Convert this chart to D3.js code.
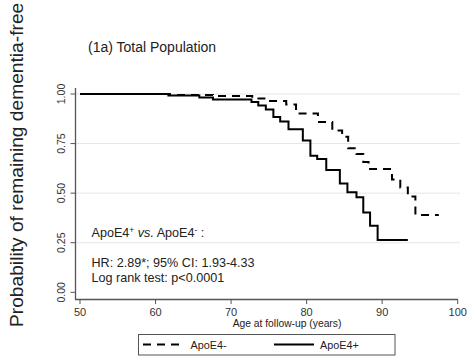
<!DOCTYPE html>
<html><head><meta charset="utf-8">
<script src="https://cdn.jsdelivr.net/npm/d3@7"></script>
<style>body{margin:0;background:#fff}svg{display:block;font-family:"Liberation Sans",Arial,sans-serif}</style>
</head><body><svg id="c" width="474" height="362"></svg>
<script>
const xTicks = [50, 60, 70, 80, 90, 100];
const yTicks = [0, 0.25, 0.5, 0.75, 1];
const gridTicks = [0.25, 0.5, 0.75, 1];
const seriesNames = ["ApoE4-", "ApoE4+"];
const negAges = [50, 61.9, 67.6, 72.8, 74.9, 77.3, 78.6, 81.5, 83.4, 84.7, 85.5, 86.6, 87.5, 88.2, 91.3, 92.4, 93.4, 94.4, 97.5];
const negSurv = [1, 0.995, 0.990, 0.977, 0.965, 0.947, 0.902, 0.859, 0.816, 0.785, 0.726, 0.698, 0.657, 0.622, 0.569, 0.529, 0.483, 0.390, 0.390];
const posAges = [50, 61.7, 65.8, 67.6, 72.7, 73.6, 74.6, 75.6, 76.5, 77.6, 79.5, 80.5, 81.4, 82.6, 84.4, 85.4, 86.6, 87.5, 88.4, 89.4, 93.4];
const posSurv = [1, 0.993, 0.982, 0.972, 0.960, 0.942, 0.922, 0.884, 0.861, 0.822, 0.765, 0.688, 0.672, 0.617, 0.549, 0.504, 0.479, 0.402, 0.335, 0.264, 0.264];

const svg = d3.select("#c");
const x = d3.scaleLinear().domain([50, 100]).range([80, 457.7]);
const y = d3.scaleLinear().domain([0, 1]).range([292.3, 94]);

// grid
svg.append("g").selectAll("line").data(gridTicks).join("line")
  .attr("x1", 75.5).attr("x2", 460).attr("y1", d => y(d)).attr("y2", d => y(d))
  .attr("stroke", "#e6e6e6").attr("stroke-width", 1);

// axes
const axCol = "#555";
svg.append("line").attr("x1", 75.5).attr("x2", 75.5).attr("y1", 88).attr("y2", 299.5).attr("stroke", axCol).attr("stroke-width", 1.3);
svg.append("line").attr("x1", 75).attr("x2", 458).attr("y1", 299.5).attr("y2", 299.5).attr("stroke", axCol).attr("stroke-width", 1.3);
svg.append("g").selectAll("line").data(yTicks).join("line")
  .attr("x1", 70.5).attr("x2", 75.5).attr("y1", d => y(d)).attr("y2", d => y(d)).attr("stroke", axCol);
svg.append("g").selectAll("text").data(yTicks).join("text")
  .attr("transform", d => `translate(65,${y(d)}) rotate(-90)`)
  .attr("text-anchor", "middle").attr("font-size", 10.5).attr("fill", "#333")
  .text(d => d3.format(".2f")(d));
svg.append("g").selectAll("line").data(xTicks).join("line")
  .attr("x1", d => x(d)).attr("x2", d => x(d)).attr("y1", 299.5).attr("y2", 304).attr("stroke", axCol);
svg.append("g").selectAll("text").data(xTicks).join("text")
  .attr("x", d => x(d)).attr("y", 315.5).attr("text-anchor", "middle")
  .attr("font-size", 11).attr("fill", "#333").text(d => d);
svg.append("text").attr("x", 287).attr("y", 326.5).attr("text-anchor", "middle")
  .attr("font-size", 10.3).attr("fill", "#222").text("Age at follow-up (years)");

// y title
svg.append("text").attr("transform", "translate(23,327) rotate(-90)")
  .attr("font-size", 19.2).attr("fill", "#222").text("Probability of remaining dementia-free");

// title
svg.append("text").attr("x", 88).attr("y", 52).attr("font-size", 14).attr("fill", "#222").text("(1a) Total Population");

// curves
const line = d3.line().curve(d3.curveStepAfter).x(d => x(d[0])).y(d => y(d[1]));
svg.append("path").datum(d3.zip(negAges, negSurv)).attr("d", line)
  .attr("fill", "none").attr("stroke", "#000").attr("stroke-width", 2).attr("stroke-dasharray", "8,6");
svg.append("path").datum(d3.zip(posAges, posSurv)).attr("d", line)
  .attr("fill", "none").attr("stroke", "#000").attr("stroke-width", 2);

// annotations
const ann = svg.append("g").attr("font-size", 12.6).attr("fill", "#222");
const t1 = ann.append("text").attr("x", 91.5).attr("y", 236.5);
t1.append("tspan").text("ApoE4");
t1.append("tspan").attr("font-size", 8.5).attr("dy", -4).text("+");
t1.append("tspan").attr("dy", 4).text(" ");
t1.append("tspan").attr("font-style", "italic").text("vs.");
t1.append("tspan").text("  ApoE4");
t1.append("tspan").attr("font-size", 8.5).attr("dy", -4).text("-");
t1.append("tspan").attr("dy", 4).text(" :");
ann.append("text").attr("x", 91.5).attr("y", 266.5).text("HR: 2.89*; 95% CI: 1.93-4.33");
ann.append("text").attr("x", 91.5).attr("y", 281.5).text("Log rank test: p<0.0001");

// legend
svg.append("rect").attr("x", 138.5).attr("y", 334.5).attr("width", 256.5).attr("height", 20.5)
  .attr("fill", "#fff").attr("stroke", "#555").attr("stroke-width", 1);
svg.append("line").attr("x1", 143).attr("x2", 183).attr("y1", 344.5).attr("y2", 344.5)
  .attr("stroke", "#000").attr("stroke-width", 2).attr("stroke-dasharray", "8,6");
svg.append("line").attr("x1", 274).attr("x2", 314).attr("y1", 344.5).attr("y2", 344.5)
  .attr("stroke", "#000").attr("stroke-width", 2);
svg.append("text").attr("x", 190.5).attr("y", 348.5).attr("font-size", 10.8).attr("fill", "#222").text(seriesNames[0]);
svg.append("text").attr("x", 320).attr("y", 348.5).attr("font-size", 10.8).attr("fill", "#222").text(seriesNames[1]);
</script></body></html>
